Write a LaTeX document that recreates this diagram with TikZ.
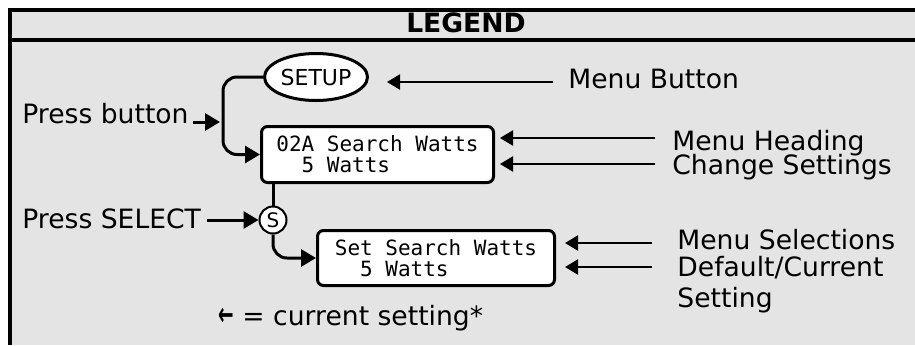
\documentclass[tikz,border=0pt]{standalone}
\usepackage{graphicx}
\usepackage{fontspec}
\setmainfont{DejaVu Sans}
\setmonofont{DejaVu Sans Mono}
\usetikzlibrary{arrows.meta, shapes.geometric}
\definecolor{panel}{RGB}{228,228,228}
\newcommand{\lblfont}{\fontsize{13.3}{15.5}\selectfont}
\newcommand{\lcdfont}{\ttfamily\fontsize{10.5}{10.5}\selectfont}

\begin{document}
\begin{tikzpicture}[x=0.5pt, y=-0.5pt,
  frame/.style={line width=2pt},
  lbl/.style={anchor=base west, inner sep=0pt, font=\lblfont, align=left},
  lcd/.style={draw, line width=1.5pt, rounded corners=3pt, fill=white, font=\lcdfont,
    align=left, inner xsep=7pt, anchor=north west},
  flow/.style={line width=1.5pt, -{Triangle[length=7.5pt,width=8.5pt]}},
  ptr/.style={line width=1pt, -{Triangle[length=6.5pt,width=7.5pt]}}]
\useasboundingbox (0,0) rectangle (915,345);
\fill[white] (0,0) rectangle (915,345);
\fill[panel] (10,10) rectangle (915,345);
\draw[frame] (915,10) -- (10,10) -- (10,345);
\draw[frame] (10,40) -- (915,40);
\node[font=\bfseries\lblfont, inner sep=0pt, anchor=base] (title) at (466,32) {LEGEND};

\node[draw, ellipse, line width=1.5pt, fill=white, minimum width=51.5pt, minimum height=23.5pt,
  inner sep=0pt, font=\fontsize{11}{11}\selectfont] (setup) at (316,77) {SETUP};
\node[lcd, minimum width=116pt, minimum height=28pt] (box1) at (260,125)
  {02A Search Watts\\\ \ 5 Watts};
\node[draw, circle, line width=1pt, fill=white, minimum size=13.5pt, inner sep=0pt,
  font=\fontsize{10}{10}\selectfont] (sel) at (273,220) {S};
\node[lcd, minimum width=118.5pt, minimum height=27.5pt] (box2) at (316,229)
  {Set Search Watts\\\ \ 5 Watts};

\node[lbl] (btnlbl) at (22,123) {Press button};
\node[lbl] (sellbl) at (22,228) {Press SELECT};
\node[lbl] (menubtn) at (568,88) {Menu Button};
\node[lbl] (heading) at (672,150) {Menu Heading};
\node[lbl] (change) at (672,174) {Change Settings};
\node[lbl] (selects) at (677,249) {Menu Selections};
\node[lbl] (default) at (677,307) {Default/Current\\Setting};
\node[lbl] (current) at (218,325) {\scalebox{0.7}[1.2]{\bfseries ←} = current setting*};

\coordinate (rail) at (223,77);
\draw[flow, rounded corners=7pt] (setup.west) -- (rail) |- (box1.west);
\draw[flow, shorten <=2pt, shorten >=1.5pt] (btnlbl.east |- 0,122) -- (rail |- 0,122);
\draw[flow, shorten <=3pt] (sellbl.east |- sel) -- (sel.west);
\draw[line width=1.5pt] (box1.south -| sel) -- (sel.north);
\draw[flow, rounded corners=7pt] (sel.south) |- (box2.west);

\draw[ptr, shorten <=7.5pt, shorten >=9pt] (menubtn.west |- 0,82) -- (setup.east |- 0,82);
\draw[ptr, shorten <=8.5pt, shorten >=2.5pt] (heading.west |- 0,138) -- (box1.east |- 0,138);
\draw[ptr, shorten <=8.5pt, shorten >=2.5pt] (change.west |- 0,164) -- (box1.east |- 0,164);
\draw[ptr, shorten <=12.5pt, shorten >=4.5pt] (selects.west |- 0,243) -- (box2.east |- 0,243);
\draw[ptr, shorten <=12.5pt, shorten >=4.5pt] (default.west |- 0,267) -- (box2.east |- 0,267);
\end{tikzpicture}
\end{document}
